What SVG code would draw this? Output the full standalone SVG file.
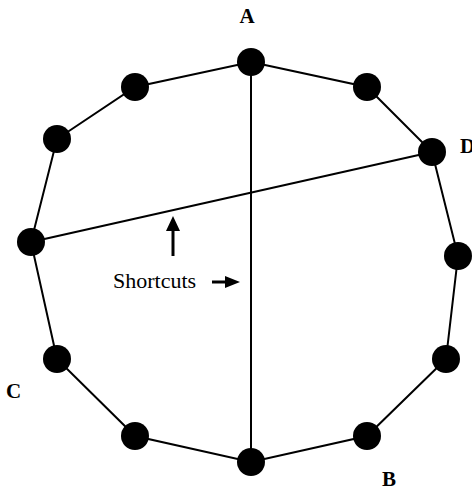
<svg xmlns="http://www.w3.org/2000/svg" width="472" height="490" viewBox="0 0 472 490">
<style>
.e{stroke:#000;stroke-width:2;fill:none}
.n{fill:#000}
.a{stroke:#000;stroke-width:3;fill:none}
.lbl{font-family:"Liberation Serif",serif;font-weight:bold;font-size:21px;fill:#000}
.t{font-family:"Liberation Serif",serif;font-size:22px;fill:#000}
</style>
<g id="connectors">
<polygon class="e" points="251,62 367,87 432,152 458,256 446,359 367,436 251,462 135,436 57,359 31,242 57,139 135,87"/>
<line class="e" x1="251" y1="62" x2="251" y2="462"/>
<line class="e" x1="31" y1="242" x2="432" y2="152"/>
<line class="a" x1="173" y1="256" x2="173" y2="228"/>
<polygon points="166,231 173,216 180,231" fill="#000"/>
<line class="a" x1="212" y1="282" x2="228" y2="282"/>
<polygon points="225,276 240,282 225,288" fill="#000"/>
</g>
<g id="nA"><circle class="n" cx="251" cy="62" r="14"/></g>
<g id="n1"><circle class="n" cx="367" cy="87" r="14"/></g>
<g id="nD"><circle class="n" cx="432" cy="152" r="14"/></g>
<g id="n3"><circle class="n" cx="458" cy="256" r="14"/></g>
<g id="n4"><circle class="n" cx="446" cy="359" r="14"/></g>
<g id="n5"><circle class="n" cx="367" cy="436" r="14"/></g>
<g id="nB"><circle class="n" cx="251" cy="462" r="14"/></g>
<g id="n7"><circle class="n" cx="135" cy="436" r="14"/></g>
<g id="n8"><circle class="n" cx="57" cy="359" r="14"/></g>
<g id="nC"><circle class="n" cx="31" cy="242" r="14"/></g>
<g id="n10"><circle class="n" cx="57" cy="139" r="14"/></g>
<g id="n11"><circle class="n" cx="135" cy="87" r="14"/></g>
<g id="labels">
<text class="lbl" x="247" y="23" text-anchor="middle">A</text>
<text class="lbl" x="460" y="153">D</text>
<text class="lbl" x="6" y="398">C</text>
<text class="lbl" x="382" y="486">B</text>
<text class="t" x="113" y="288">Shortcuts</text>
</g>
</svg>
